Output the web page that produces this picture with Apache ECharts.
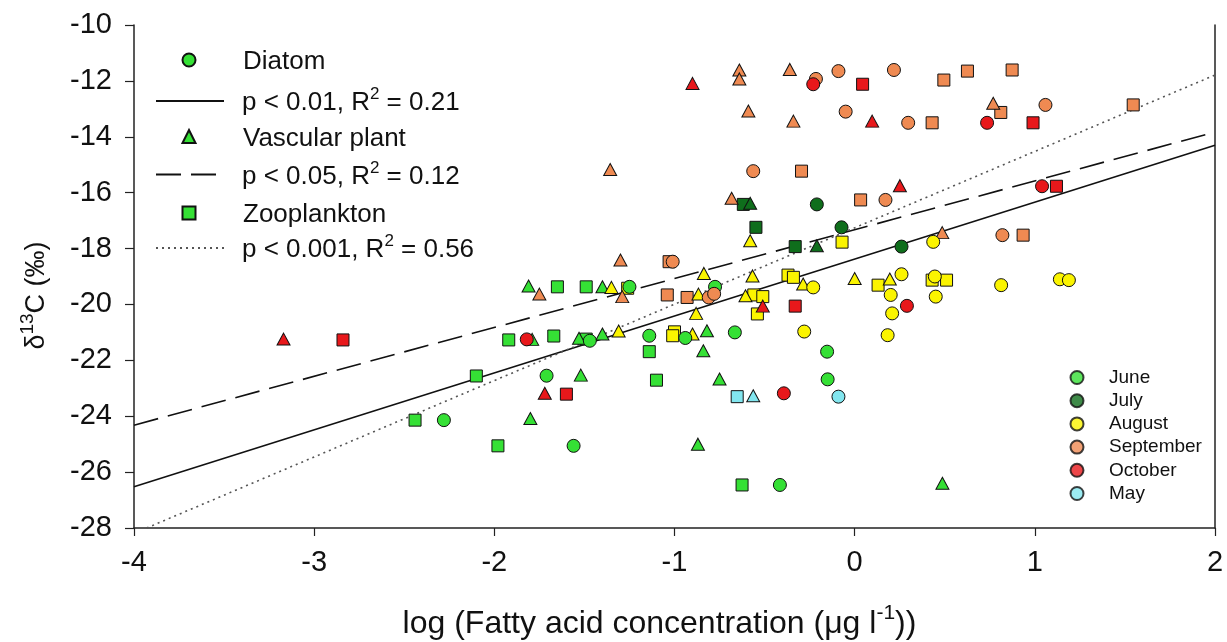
<!DOCTYPE html>
<html>
<head>
<meta charset="utf-8">
<script src="https://cdn.jsdelivr.net/npm/echarts@6/dist/echarts.min.js"></script>
<style>
html,body{margin:0;padding:0;background:#fff;}
#chart{width:1227px;height:642px;}
</style>
</head>
<body>
<div id="chart"></div>
<script>
// ---- data: [log fatty acid conc, d13C, month] ----
const diatomPts = [
  [-1.25,-19.37,'Jun'],[-0.775,-19.37,'Jun'],[-1.47,-21.30,'Jun'],[-1.14,-21.12,'Jun'],[-0.94,-21.20,'Jun'],
  [-0.665,-21.0,'Jun'],[-0.153,-21.69,'Jun'],[-0.15,-22.68,'Jun'],[-1.71,-22.55,'Jun'],[-2.28,-24.14,'Jun'],
  [-1.56,-25.06,'Jun'],[-0.415,-26.46,'Jun'],
  [-0.21,-16.42,'Jul'],[-0.073,-17.24,'Jul'],[0.26,-17.93,'Jul'],
  [-0.23,-19.39,'Aug'],[-0.28,-20.97,'Aug'],[0.436,-17.76,'Aug'],[0.26,-18.92,'Aug'],[0.445,-19.0,'Aug'],
  [0.813,-19.31,'Aug'],[1.139,-19.10,'Aug'],[1.189,-19.13,'Aug'],[0.20,-19.66,'Aug'],[0.45,-19.72,'Aug'],
  [0.208,-20.32,'Aug'],[0.183,-21.10,'Aug'],
  [-0.215,-11.93,'Sep'],[-0.09,-11.65,'Sep'],[-0.05,-13.10,'Sep'],[0.218,-11.61,'Sep'],[0.297,-13.50,'Sep'],
  [1.059,-12.86,'Sep'],[-0.563,-15.23,'Sep'],[0.171,-16.26,'Sep'],[0.82,-17.52,'Sep'],[-1.01,-18.47,'Sep'],
  [-0.81,-19.75,'Sep'],[-0.78,-19.62,'Sep'],
  [-0.23,-12.12,'Oct'],[0.735,-13.50,'Oct'],[1.04,-15.77,'Oct'],[-1.82,-21.25,'Oct'],[-0.393,-23.18,'Oct'],
  [0.29,-20.05,'Oct'],
  [-0.09,-23.30,'May']
];
const vascularPts = [
  [-1.81,-19.34,'Jun'],[-1.40,-19.37,'Jun'],[-1.79,-21.25,'Jun'],[-1.53,-21.21,'Jun'],[-1.40,-21.06,'Jun'],
  [-0.82,-20.94,'Jun'],[-0.84,-21.66,'Jun'],[-1.52,-22.53,'Jun'],[-0.75,-22.67,'Jun'],[-1.80,-24.08,'Jun'],
  [-0.87,-25.0,'Jun'],[0.487,-26.40,'Jun'],
  [-0.58,-16.38,'Jul'],[-0.21,-17.90,'Jul'],
  [-0.58,-17.72,'Aug'],[-0.837,-18.89,'Aug'],[-0.567,-18.98,'Aug'],[-0.286,-19.27,'Aug'],[-1.35,-19.39,'Aug'],
  [-0.867,-19.63,'Aug'],[-0.606,-19.69,'Aug'],[-0.88,-20.32,'Aug'],[-1.31,-20.95,'Aug'],[-0.90,-21.06,'Aug'],
  [0.0,-19.07,'Aug'],[0.195,-19.09,'Aug'],
  [-0.64,-11.61,'Sep'],[-0.64,-11.93,'Sep'],[-0.36,-11.59,'Sep'],[-0.59,-13.08,'Sep'],[-0.34,-13.44,'Sep'],
  [-1.357,-15.17,'Sep'],[-0.683,-16.20,'Sep'],[-1.30,-18.41,'Sep'],[-1.75,-19.63,'Sep'],[-1.29,-19.72,'Sep'],
  [0.769,-12.80,'Sep'],[0.486,-17.43,'Sep'],
  [-0.90,-12.09,'Oct'],[0.097,-13.44,'Oct'],[0.251,-15.75,'Oct'],[-0.51,-20.06,'Oct'],[-3.17,-21.24,'Oct'],
  [-1.72,-23.18,'Oct'],
  [-0.563,-23.27,'May']
];
const zooplanktonPts = [
  [-1.65,-19.37,'Jun'],[-1.49,-19.37,'Jun'],[-1.92,-21.27,'Jun'],[-1.67,-21.13,'Jun'],[-1.49,-21.24,'Jun'],
  [-1.14,-21.69,'Jun'],[-2.10,-22.56,'Jun'],[-1.10,-22.71,'Jun'],[-2.44,-24.14,'Jun'],[-1.98,-25.06,'Jun'],
  [-0.625,-26.46,'Jun'],
  [-0.618,-16.42,'Jul'],[-0.548,-17.24,'Jul'],[-0.33,-17.93,'Jul'],
  [-0.07,-17.77,'Aug'],[-0.37,-18.95,'Aug'],[-0.34,-19.03,'Aug'],[-1.26,-19.42,'Aug'],[-0.56,-19.66,'Aug'],
  [-0.51,-19.72,'Aug'],[-0.54,-20.34,'Aug'],[-1.00,-20.98,'Aug'],[-1.01,-21.12,'Aug'],[0.13,-19.31,'Aug'],
  [0.43,-19.13,'Aug'],[0.51,-19.13,'Aug'],
  [-0.295,-15.23,'Sep'],[-1.03,-18.47,'Sep'],[-1.04,-19.66,'Sep'],[-0.93,-19.75,'Sep'],[0.495,-11.97,'Sep'],
  [0.626,-11.65,'Sep'],[0.874,-11.61,'Sep'],[0.43,-13.50,'Sep'],[0.811,-13.13,'Sep'],[1.546,-12.86,'Sep'],
  [0.033,-16.26,'Sep'],[0.935,-17.52,'Sep'],
  [0.044,-12.12,'Oct'],[0.99,-13.50,'Oct'],[1.12,-15.77,'Oct'],[-0.33,-20.06,'Oct'],[-2.84,-21.27,'Oct'],
  [-1.60,-23.21,'Oct'],
  [-0.652,-23.30,'May']
];
// regression line end points
const diatomFit = [[-4,-26.52],[2,-14.30]];
const vascularFit = [[-4,-24.32],[2,-13.83]];
const zooplanktonFit = [[-3.93,-28],[2,-11.79]];
const groupNames = ['Diatom','Vascular plant','Zooplankton'];
const fitLabels = ['p < 0.01, R2 = 0.21','p < 0.05, R2 = 0.12','p < 0.001, R2 = 0.56'];
const monthKeys = ['Jun','Jul','Aug','Sep','Oct','May'];
const monthNames = ['June','July','August','September','October','May'];
const xTicks = [-4,-3,-2,-1,0,1,2];
const yTicks = [-28,-26,-24,-22,-20,-18,-16,-14,-12,-10];

// ---- styling ----
const monthColors = {Jun:'#35e035',Jul:'#0f6e1c',Aug:'#fbf400',Sep:'#ef8a52',Oct:'#e8181b',May:'#82e6ef'};
const FONT = "'Liberation Sans', Arial, sans-serif";
const INK = '#111';

function toData(pts){
  return pts.map(p => ({value:[p[0],p[1]], itemStyle:{color:monthColors[p[2]]}}));
}
function scatter(name, pts, symbol, size){
  return {
    name, type:'scatter', data:toData(pts), symbol, symbolSize:size,
    itemStyle:{color:monthColors.Jun, borderColor:'#111', borderWidth:1, opacity:1},
    emphasis:{disabled:true}, z:3
  };
}
function fit(name, pts, type, width, color){
  return {
    name, type:'line', data:pts, symbol:'none', showSymbol:false, silent:true,
    lineStyle:{color, width, type}, itemStyle:{color, opacity:0}, z:2
  };
}

const series = [
  fit(fitLabels[0], diatomFit, 'solid', 1.6, '#111'),
  fit(fitLabels[1], vascularFit, [25,10], 1.6, '#111'),
  fit(fitLabels[2], zooplanktonFit, [2,4], 1.6, '#555'),
  scatter(groupNames[2], zooplanktonPts, 'rect', 12),
  scatter(groupNames[1], vascularPts, 'triangle', [13,12]),
  scatter(groupNames[0], diatomPts, 'circle', 13)
];
monthKeys.forEach((k,i) => series.push({
  name: monthNames[i], type:'scatter', data:[], symbol:'circle', symbolSize:13,
  itemStyle:{color:monthColors[k], borderColor:'#111', borderWidth:1}
}));

const legendRich = {
  t:{fontFamily:FONT, fontSize:26, color:INK, lineHeight:30, verticalAlign:'bottom'},
  s:{fontFamily:FONT, fontSize:17, color:INK, lineHeight:12, verticalAlign:'top'}
};

const chart = echarts.init(document.getElementById('chart'), null, {renderer:'canvas'});
chart.setOption({
  animation:false,
  backgroundColor:'#fff',
  grid:{left:134, right:12, top:25, bottom:114, containLabel:false, outerBoundsMode:'none'},
  xAxis:{
    type:'value', min:xTicks[0], max:xTicks[xTicks.length-1], interval:1,
    name:'{t|log (Fatty acid concentration (μg l}{s|-1}{t|))}',
    nameLocation:'middle', nameGap:75,
    nameTextStyle:{padding:[0,30,0,0], rich:{
      t:{fontFamily:FONT, fontSize:32, color:INK, lineHeight:37, verticalAlign:'bottom'},
      s:{fontFamily:FONT, fontSize:21, color:INK, lineHeight:14, verticalAlign:'top'}
    }},
    axisLine:{show:true, onZero:false, lineStyle:{color:'#222', width:1.5}},
    axisTick:{show:true, inside:false, length:8, lineStyle:{color:'#222', width:1.2}},
    axisLabel:{fontFamily:FONT, fontSize:29, color:INK, margin:20},
    splitLine:{show:false}
  },
  yAxis:[{
    type:'value', min:yTicks[0], max:yTicks[yTicks.length-1], interval:2,
    name:'{t|δ}{s|13}{t|C (‰)}',
    nameLocation:'middle', nameGap:84,
    nameTextStyle:{padding:[0,38,0,0], rich:{
      t:{fontFamily:FONT, fontSize:27, color:INK, lineHeight:32, verticalAlign:'bottom'},
      s:{fontFamily:FONT, fontSize:19, color:INK, lineHeight:14, verticalAlign:'top'}
    }},
    axisLine:{show:true, onZero:false, lineStyle:{color:'#222', width:1.5}},
    axisTick:{show:true, inside:false, length:9, lineStyle:{color:'#222', width:1.2}},
    axisLabel:{fontFamily:FONT, fontSize:29, color:INK, margin:22},
    splitLine:{show:false}
  },{
    type:'value', position:'right', min:yTicks[0], max:yTicks[yTicks.length-1], interval:2,
    axisLine:{show:true, onZero:false, lineStyle:{color:'#222', width:1.5}},
    axisTick:{show:false}, axisLabel:{show:false}, splitLine:{show:false}
  }],
  legend:[{
    data:groupNames,
    orient:'vertical', left:176.5, top:44, itemWidth:13, itemHeight:13, itemGap:50.5,
    selectedMode:false,
    formatter: n => '{g|}{t|' + n + '}',
    textStyle:{rich:Object.assign({g:{width:42.5}}, legendRich)}
  },{
    data:fitLabels,
    orient:'vertical', left:150, top:81, itemWidth:68, itemHeight:13, itemGap:43.5,
    selectedMode:false, itemStyle:{opacity:0},
    formatter: n => '{g|}{t|' + n.replace('R2', 'R}{s|2}{t|') + '}',
    textStyle:{rich:Object.assign({g:{width:13}}, legendRich)}
  },{
    data:monthNames,
    orient:'vertical', left:1064.5, top:363, itemWidth:13, itemHeight:13, itemGap:4.2,
    selectedMode:false,
    formatter: n => '{g|}{t|' + n + '}',
    textStyle:{rich:{
      g:{width:20.5},
      t:{fontFamily:FONT, fontSize:19, color:INK, lineHeight:22.6}
    }}
  }],
  series
});
</script>
</body>
</html>
